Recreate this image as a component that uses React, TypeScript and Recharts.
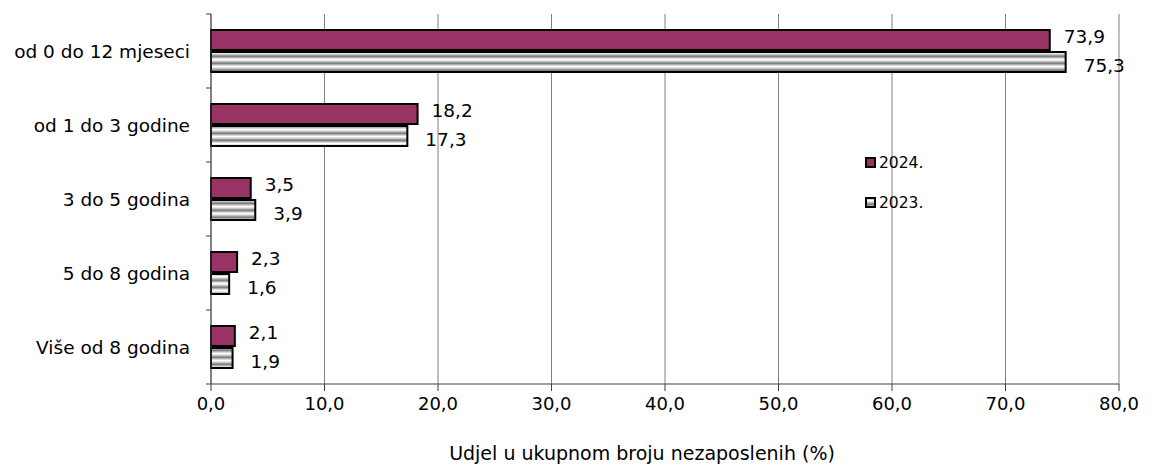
import React from 'react';
import { BarChart, Bar, XAxis, YAxis, CartesianGrid, LabelList, Legend } from 'recharts';

const categories = ['od 0 do 12 mjeseci', 'od 1 do 3 godine', '3 do 5 godina', '5 do 8 godina', 'Više od 8 godina'];
const values2024 = [73.9, 18.2, 3.5, 2.3, 2.1];
const values2023 = [75.3, 17.3, 3.9, 1.6, 1.9];
const xTicks = [0, 10, 20, 30, 40, 50, 60, 70, 80];

const data = categories.map((name, i) => ({ name, y2024: values2024[i], y2023: values2023[i] }));

const FONT = 'DejaVu Sans, Verdana, sans-serif';
const fmt = (v: number) => v.toFixed(1).replace('.', ',');

const TICK_MARGIN = 21;

// category label plus Excel-style tick marks on the band edges
const CategoryTick = (props: any) => {
  const { x, y, payload, index, visibleTicksCount } = props;
  const half = payload && payload.offset ? payload.offset : 36.8;
  const ax = x + TICK_MARGIN;
  const last = index === (visibleTicksCount ?? categories.length) - 1;
  return (
    <g>
      <line x1={ax - 5} x2={ax} y1={y - half} y2={y - half} stroke="#404040" />
      {last && <line x1={ax - 5} x2={ax} y1={y + half} y2={y + half} stroke="#404040" />}
      <text x={x} y={y} textAnchor="end" dominantBaseline="central" fontSize={18.5} fontFamily={FONT} fill="#000">
        {payload.value}
      </text>
    </g>
  );
};

const makeLabel = (dx: number, dy: number) => (props: any) => {
  const { x, y, width, height, value } = props;
  return (
    <text
      x={x + width + dx}
      y={y + height / 2 + dy}
      dominantBaseline="central"
      fontSize={18.5}
      fontFamily={FONT}
      fill="#000"
    >
      {fmt(value)}
    </text>
  );
};

const LegendBox = () => (
  <div style={{ fontFamily: FONT, fontSize: 15.5, color: '#000' }}>
    {[
      { label: '2024.', fill: '#993366' },
      { label: '2023.', fill: 'url(#stripes)' },
    ].map((item, i) => (
      <div key={item.label} style={{ display: 'flex', alignItems: 'center', height: 20, marginBottom: i === 0 ? 20 : 0 }}>
        <svg width={12} height={12} style={{ marginRight: 2 }}>
          <rect x={1} y={1} width={9} height={9} fill={item.fill} stroke="#000" strokeWidth={2} />
        </svg>
        <span>{item.label}</span>
      </div>
    ))}
  </div>
);

const App: React.FC = () => {
  return (
    <div style={{ position: 'absolute', left: 0, top: 0, width: 1154, height: 466, background: '#fff' }}>
      <BarChart
        width={1154}
        height={466}
        data={data}
        layout="vertical"
        margin={{ top: 14, right: 35, left: 0, bottom: 42 }}
        barSize={20}
        barGap={2}
      >
        <defs>
          <pattern id="stripes" patternUnits="userSpaceOnUse" width={8} height={7}>
            <rect x={0} y={0} width={8} height={1} fill="#7f7f7f" />
            <rect x={0} y={1} width={8} height={1} fill="#b0b0b0" />
            <rect x={0} y={2} width={8} height={1} fill="#d8d8d8" />
            <rect x={0} y={3} width={8} height={1} fill="#ffffff" />
            <rect x={0} y={4} width={8} height={1} fill="#e6e6e6" />
            <rect x={0} y={5} width={8} height={1} fill="#c4c4c4" />
            <rect x={0} y={6} width={8} height={1} fill="#9a9a9a" />
          </pattern>
        </defs>
        <CartesianGrid horizontal={false} stroke="#808080" strokeWidth={1} />
        <XAxis
          type="number"
          domain={[0, 80]}
          ticks={xTicks}
          tickFormatter={fmt}
          interval={0}
          axisLine={{ stroke: '#404040', strokeWidth: 1 }}
          tickLine={{ stroke: '#404040' }}
          tickSize={7}
          tickMargin={6}
          height={40}
          tick={{ fontSize: 18, fontFamily: FONT, fill: '#000' }}
          label={{
            value: 'Udjel u ukupnom broju nezaposlenih (%)',
            position: 'insideBottom',
            offset: -36,
            dx: -23,
            fontSize: 19,
            fontFamily: FONT,
            fill: '#000',
          }}
        />
        <YAxis
          type="category"
          dataKey="name"
          width={211}
          interval={0}
          axisLine={{ stroke: '#404040', strokeWidth: 1 }}
          tickLine={false}
          tickSize={0}
          tickMargin={TICK_MARGIN}
          tick={<CategoryTick />}
        />
        <Legend
          verticalAlign="middle"
          align="center"
          layout="horizontal"
          content={<LegendBox />}
          wrapperStyle={{ position: 'absolute', left: 865, top: 153, width: 80 }}
        />
        <Bar dataKey="y2024" name="2024." fill="#993366" stroke="#000" strokeWidth={2} isAnimationActive={false}>
          <LabelList dataKey="y2024" content={makeLabel(14, -4)} />
        </Bar>
        <Bar dataKey="y2023" name="2023." fill="url(#stripes)" stroke="#000" strokeWidth={2} isAnimationActive={false}>
          <LabelList dataKey="y2023" content={makeLabel(18, 3)} />
        </Bar>
      </BarChart>
    </div>
  );
};

export default App;
